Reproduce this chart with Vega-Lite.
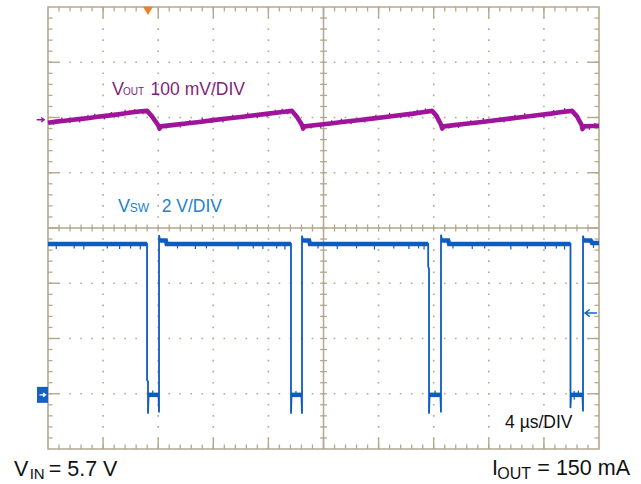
{
  "$schema": "https://vega.github.io/schema/vega-lite/v6.json",
  "width": 551,
  "height": 442,
  "autosize": "none",
  "padding": {"left": 48, "top": 7, "right": 42, "bottom": 35},
  "background": "white",
  "config": {
    "view": {"stroke": "#b5a88e", "strokeWidth": 1.6},
    "axis": {"disable": true},
    "text": {"font": "Liberation Sans"}
  },
  "datasets": {
    "xt": [{"t":0.8},{"t":1.6},{"t":2.4},{"t":3.2},{"t":4},{"t":4.8},{"t":5.6},{"t":6.4},{"t":7.2},{"t":8},{"t":8.8},{"t":9.6},{"t":10.4},{"t":11.2},{"t":12},{"t":12.8},{"t":13.6},{"t":14.4},{"t":15.2},{"t":16},{"t":16.8},{"t":17.6},{"t":18.4},{"t":19.2},{"t":20},{"t":20.8},{"t":21.6},{"t":22.4},{"t":23.2},{"t":24},{"t":24.8},{"t":25.6},{"t":26.4},{"t":27.2},{"t":28},{"t":28.8},{"t":29.6},{"t":30.4},{"t":31.2},{"t":32},{"t":32.8},{"t":33.6},{"t":34.4},{"t":35.2},{"t":36},{"t":36.8},{"t":37.6},{"t":38.4},{"t":39.2}],
    "xm": [{"t":4},{"t":8},{"t":12},{"t":16},{"t":20},{"t":24},{"t":28},{"t":32},{"t":36}],
    "yt": [{"v":-3.8},{"v":-3.6},{"v":-3.4},{"v":-3.2},{"v":-3},{"v":-2.8},{"v":-2.6},{"v":-2.4},{"v":-2.2},{"v":-2},{"v":-1.8},{"v":-1.6},{"v":-1.4},{"v":-1.2},{"v":-1},{"v":-0.8},{"v":-0.6},{"v":-0.4},{"v":-0.2},{"v":0},{"v":0.2},{"v":0.4},{"v":0.6},{"v":0.8},{"v":1},{"v":1.2},{"v":1.4},{"v":1.6},{"v":1.8},{"v":2},{"v":2.2},{"v":2.4},{"v":2.6},{"v":2.8},{"v":3},{"v":3.2},{"v":3.4},{"v":3.6},{"v":3.8}],
    "ym": [{"v":-3},{"v":-2},{"v":-1},{"v":0},{"v":1},{"v":2},{"v":3}],
    "vout": [{"t":0,"v":1.905},{"t":0.6,"v":1.925},{"t":1.2,"v":1.94},{"t":1.8,"v":1.958},{"t":2.4,"v":1.975},{"t":3.0,"v":1.99},{"t":3.6,"v":2.012},{"t":4.2,"v":2.03},{"t":4.8,"v":2.048},{"t":5.4,"v":2.068},{"t":6.0,"v":2.09},{"t":6.6,"v":2.108},{"t":7.19,"v":2.12},{"t":7.55,"v":2.02},{"t":8.0,"v":1.86},{"t":8.1,"v":1.8},{"t":8.2,"v":1.84},
      {"t":9.0,"v":1.862},{"t":10.0,"v":1.89},{"t":11.0,"v":1.92},{"t":12.0,"v":1.953},{"t":13.0,"v":1.982},{"t":14.0,"v":2.01},{"t":15.0,"v":2.04},{"t":16.0,"v":2.07},{"t":17.0,"v":2.1},{"t":17.71,"v":2.12},{"t":18.05,"v":2.02},{"t":18.45,"v":1.86},{"t":18.52,"v":1.8},{"t":18.62,"v":1.84},
      {"t":19.5,"v":1.865},{"t":20.5,"v":1.892},{"t":21.5,"v":1.922},{"t":22.5,"v":1.95},{"t":23.5,"v":1.98},{"t":24.5,"v":2.01},{"t":25.5,"v":2.04},{"t":26.5,"v":2.07},{"t":27.3,"v":2.1},{"t":27.88,"v":2.12},{"t":28.2,"v":2.03},{"t":28.55,"v":1.86},{"t":28.62,"v":1.8},{"t":28.72,"v":1.84},
      {"t":29.5,"v":1.862},{"t":30.5,"v":1.892},{"t":31.5,"v":1.92},{"t":32.5,"v":1.95},{"t":33.5,"v":1.98},{"t":34.5,"v":2.01},{"t":35.5,"v":2.04},{"t":36.5,"v":2.07},{"t":37.3,"v":2.1},{"t":38.04,"v":2.12},{"t":38.4,"v":2.02},{"t":38.75,"v":1.86},{"t":38.8,"v":1.79},{"t":38.92,"v":1.84},{"t":39.5,"v":1.845},{"t":40,"v":1.85}],
    "voutspk": [{"t":0.4,"lo":1.87,"hi":1.93},{"t":1.0,"lo":1.93,"hi":2.0},{"t":1.6,"lo":1.9,"hi":1.95},{"t":2.3,"lo":1.91,"hi":1.97},{"t":2.9,"lo":1.98,"hi":2.05},{"t":3.4,"lo":2.0,"hi":2.07},{"t":4.1,"lo":1.965,"hi":2.03},{"t":4.6,"lo":2.04,"hi":2.1},{"t":5.1,"lo":2.0,"hi":2.06},{"t":5.6,"lo":2.07,"hi":2.14},{"t":6.3,"lo":2.09,"hi":2.155},{"t":6.9,"lo":2.06,"hi":2.12},
      {"t":8.6,"lo":1.8,"hi":1.85},{"t":9.6,"lo":1.82,"hi":1.88},{"t":10.3,"lo":1.9,"hi":1.955},{"t":11.2,"lo":1.93,"hi":1.99},{"t":11.9,"lo":1.9,"hi":1.95},{"t":12.7,"lo":1.91,"hi":1.97},{"t":13.4,"lo":1.99,"hi":2.05},{"t":14.5,"lo":2.03,"hi":2.09},{"t":15.2,"lo":1.99,"hi":2.04},{"t":15.9,"lo":2.005,"hi":2.07},{"t":16.5,"lo":2.08,"hi":2.14},{"t":17.0,"lo":2.1,"hi":2.16},{"t":17.4,"lo":2.06,"hi":2.11},
      {"t":19.1,"lo":1.8,"hi":1.85},{"t":19.8,"lo":1.81,"hi":1.88},{"t":20.6,"lo":1.89,"hi":1.95},{"t":21.3,"lo":1.92,"hi":1.98},{"t":22.0,"lo":1.88,"hi":1.93},{"t":23.0,"lo":1.91,"hi":1.97},{"t":23.8,"lo":1.99,"hi":2.05},{"t":24.8,"lo":2.02,"hi":2.085},{"t":25.6,"lo":1.99,"hi":2.04},{"t":26.2,"lo":2.0,"hi":2.07},{"t":26.8,"lo":2.08,"hi":2.14},{"t":27.4,"lo":2.1,"hi":2.165},
      {"t":29.1,"lo":1.8,"hi":1.85},{"t":29.8,"lo":1.81,"hi":1.87},{"t":30.7,"lo":1.89,"hi":1.95},{"t":31.6,"lo":1.93,"hi":1.99},{"t":32.3,"lo":1.9,"hi":1.945},{"t":33.1,"lo":1.91,"hi":1.97},{"t":33.9,"lo":1.99,"hi":2.05},{"t":34.6,"lo":2.02,"hi":2.08},{"t":35.3,"lo":1.99,"hi":2.04},{"t":36.0,"lo":1.995,"hi":2.06},{"t":36.7,"lo":2.07,"hi":2.135},{"t":37.5,"lo":2.1,"hi":2.17},
      {"t":39.3,"lo":1.78,"hi":1.85},{"t":39.7,"lo":1.84,"hi":1.9}],
    "sw": [{"t":0,"v":-0.29},{"t":7.19,"v":-0.29},{"t":7.19,"v":-2.75},{"t":7.26,"v":-2.78},{"t":7.26,"v":-3.36},{"t":7.3,"v":-3.02},{"t":8.02,"v":-3.02},{"t":8.06,"v":-3.34},{"t":8.06,"v":-0.13},{"t":8.13,"v":-0.22},{"t":8.55,"v":-0.23},{"t":8.65,"v":-0.29},
      {"t":17.64,"v":-0.29},{"t":17.64,"v":-3.36},{"t":17.68,"v":-3.02},{"t":18.4,"v":-3.02},{"t":18.44,"v":-3.36},{"t":18.44,"v":-0.14},{"t":18.51,"v":-0.22},{"t":18.95,"v":-0.23},{"t":19.05,"v":-0.29},
      {"t":27.6,"v":-0.29},{"t":27.6,"v":-0.7},{"t":27.66,"v":-0.74},{"t":27.66,"v":-3.36},{"t":27.7,"v":-3.02},{"t":28.49,"v":-3.02},{"t":28.53,"v":-3.34},{"t":28.53,"v":-0.12},{"t":28.6,"v":-0.22},{"t":29.05,"v":-0.23},{"t":29.15,"v":-0.29},
      {"t":37.93,"v":-0.29},{"t":37.93,"v":-3.26},{"t":37.97,"v":-3.02},{"t":38.8,"v":-3.02},{"t":38.84,"v":-3.32},{"t":38.84,"v":-0.14},{"t":38.91,"v":-0.22},{"t":39.4,"v":-0.23},{"t":39.5,"v":-0.27},{"t":40,"v":-0.27}],
    "swband": [{"seg":"h1","t":0,"v":-0.29},{"seg":"h1","t":7.19,"v":-0.29},
      {"seg":"l1","t":7.26,"v":-3.02},{"seg":"l1","t":8.06,"v":-3.02},
      {"seg":"h2","t":8.08,"v":-0.225},{"seg":"h2","t":8.55,"v":-0.225},{"seg":"h2","t":8.62,"v":-0.29},{"seg":"h2","t":17.64,"v":-0.29},
      {"seg":"l2","t":17.64,"v":-3.02},{"seg":"l2","t":18.44,"v":-3.02},
      {"seg":"h3","t":18.46,"v":-0.225},{"seg":"h3","t":18.95,"v":-0.225},{"seg":"h3","t":19.02,"v":-0.29},{"seg":"h3","t":27.6,"v":-0.29},
      {"seg":"l3","t":27.66,"v":-3.02},{"seg":"l3","t":28.53,"v":-3.02},
      {"seg":"h4","t":28.55,"v":-0.225},{"seg":"h4","t":29.05,"v":-0.225},{"seg":"h4","t":29.12,"v":-0.29},{"seg":"h4","t":37.93,"v":-0.29},
      {"seg":"l4","t":37.93,"v":-3.02},{"seg":"l4","t":38.84,"v":-3.02},
      {"seg":"h5","t":38.86,"v":-0.225},{"seg":"h5","t":39.4,"v":-0.225},{"seg":"h5","t":39.5,"v":-0.27},{"seg":"h5","t":40,"v":-0.27}],
    "swspk": [{"t":0.6,"lo":-0.38,"hi":-0.29},{"t":1.9,"lo":-0.37,"hi":-0.29},{"t":2.6,"lo":-0.39,"hi":-0.29},{"t":4.3,"lo":-0.37,"hi":-0.29},{"t":5.2,"lo":-0.38,"hi":-0.29},{"t":6.0,"lo":-0.37,"hi":-0.29},{"t":6.7,"lo":-0.39,"hi":-0.29},{"t":9.4,"lo":-0.37,"hi":-0.29},{"t":10.7,"lo":-0.38,"hi":-0.29},{"t":11.5,"lo":-0.37,"hi":-0.29},{"t":13.8,"lo":-0.39,"hi":-0.29},{"t":14.9,"lo":-0.37,"hi":-0.29},{"t":15.6,"lo":-0.38,"hi":-0.29},{"t":16.6,"lo":-0.37,"hi":-0.29},{"t":17.2,"lo":-0.39,"hi":-0.29},{"t":19.6,"lo":-0.37,"hi":-0.29},{"t":21.0,"lo":-0.38,"hi":-0.29},{"t":22.4,"lo":-0.37,"hi":-0.29},{"t":23.7,"lo":-0.39,"hi":-0.29},{"t":25.1,"lo":-0.37,"hi":-0.29},{"t":26.2,"lo":-0.38,"hi":-0.29},{"t":26.9,"lo":-0.37,"hi":-0.29},{"t":27.3,"lo":-0.39,"hi":-0.29},{"t":29.4,"lo":-0.37,"hi":-0.29},{"t":30.8,"lo":-0.38,"hi":-0.29},{"t":31.7,"lo":-0.37,"hi":-0.29},{"t":33.6,"lo":-0.39,"hi":-0.29},{"t":34.8,"lo":-0.37,"hi":-0.29},{"t":36.1,"lo":-0.38,"hi":-0.29},{"t":36.9,"lo":-0.37,"hi":-0.29},{"t":37.5,"lo":-0.39,"hi":-0.29},{"t":39.6,"lo":-0.36,"hi":-0.27},
      {"t":7.6,"lo":-3.02,"hi":-2.94},{"t":18.0,"lo":-3.02,"hi":-2.95},{"t":28.1,"lo":-3.02,"hi":-2.94},{"t":38.2,"lo":-3.11,"hi":-2.95},{"t":38.5,"lo":-3.02,"hi":-2.94}]
  },
  "layer": [
    {"data": {"name": "xm"}, "mark": {"type": "rule", "color": "#b5a88e", "strokeWidth": 1.6, "strokeDash": [1.6, 9.45], "strokeDashOffset": 0.8},
     "encoding": {"x": {"field": "t", "type": "quantitative", "scale": {"domain": [0, 40], "nice": false, "zero": false}},
                  "y": {"datum": -4, "scale": {"domain": [-4, 4], "nice": false, "zero": false}}, "y2": {"datum": 4}}},
    {"data": {"name": "ym"}, "mark": {"type": "rule", "color": "#b5a88e", "strokeWidth": 1.6, "strokeDash": [1.6, 9.42], "strokeDashOffset": 0.8},
     "encoding": {"y": {"field": "v", "type": "quantitative"}, "x": {"datum": 0}, "x2": {"datum": 40}}},
    {"data": {"values": [{}]}, "mark": {"type": "rule", "color": "#b5a88e", "strokeWidth": 1.5},
     "encoding": {"x": {"datum": 20}, "y": {"datum": -4}, "y2": {"datum": 4}}},
    {"data": {"values": [{}]}, "mark": {"type": "rule", "color": "#b5a88e", "strokeWidth": 1.5},
     "encoding": {"y": {"datum": 0}, "x": {"datum": 0}, "x2": {"datum": 40}}},
    {"data": {"name": "xt"}, "mark": {"type": "rule", "color": "#b5a88e", "strokeWidth": 1.3},
     "encoding": {"x": {"field": "t", "type": "quantitative"}, "y": {"datum": 4}, "y2": {"datum": 3.918}}},
    {"data": {"name": "xt"}, "mark": {"type": "rule", "color": "#b5a88e", "strokeWidth": 1.3},
     "encoding": {"x": {"field": "t", "type": "quantitative"}, "y": {"datum": -4}, "y2": {"datum": -3.918}}},
    {"data": {"name": "xt"}, "mark": {"type": "rule", "color": "#b5a88e", "strokeWidth": 1.3},
     "encoding": {"x": {"field": "t", "type": "quantitative"}, "y": {"datum": 0.065}, "y2": {"datum": -0.065}}},
    {"data": {"name": "xm"}, "mark": {"type": "rule", "color": "#b5a88e", "strokeWidth": 1.4},
     "encoding": {"x": {"field": "t", "type": "quantitative"}, "y": {"datum": 4}, "y2": {"datum": 3.8}}},
    {"data": {"name": "xm"}, "mark": {"type": "rule", "color": "#b5a88e", "strokeWidth": 1.4},
     "encoding": {"x": {"field": "t", "type": "quantitative"}, "y": {"datum": -4}, "y2": {"datum": -3.8}}},
    {"data": {"name": "yt"}, "mark": {"type": "rule", "color": "#b5a88e", "strokeWidth": 1.3},
     "encoding": {"y": {"field": "v", "type": "quantitative"}, "x": {"datum": 0}, "x2": {"datum": 0.327}}},
    {"data": {"name": "yt"}, "mark": {"type": "rule", "color": "#b5a88e", "strokeWidth": 1.3},
     "encoding": {"y": {"field": "v", "type": "quantitative"}, "x": {"datum": 40}, "x2": {"datum": 39.673}}},
    {"data": {"name": "yt"}, "mark": {"type": "rule", "color": "#b5a88e", "strokeWidth": 1.3},
     "encoding": {"y": {"field": "v", "type": "quantitative"}, "x": {"datum": 19.75}, "x2": {"datum": 20.25}}},
    {"data": {"name": "ym"}, "mark": {"type": "rule", "color": "#b5a88e", "strokeWidth": 1.4},
     "encoding": {"y": {"field": "v", "type": "quantitative"}, "x": {"datum": 0}, "x2": {"datum": 0.8}}},
    {"data": {"name": "ym"}, "mark": {"type": "rule", "color": "#b5a88e", "strokeWidth": 1.4},
     "encoding": {"y": {"field": "v", "type": "quantitative"}, "x": {"datum": 40}, "x2": {"datum": 39.2}}},

    {"data": {"name": "swband"}, "mark": {"type": "line", "color": "#0f5cc0", "strokeWidth": 4.5, "strokeCap": "butt"},
     "encoding": {"x": {"field": "t", "type": "quantitative"}, "y": {"field": "v", "type": "quantitative"}, "detail": {"field": "seg"}, "order": {"value": null}}},
    {"data": {"name": "sw"}, "mark": {"type": "line", "color": "#0f5cc0", "strokeWidth": 1.8},
     "encoding": {"x": {"field": "t", "type": "quantitative"}, "y": {"field": "v", "type": "quantitative"}, "order": {"value": null}}},
    {"data": {"name": "swspk"}, "mark": {"type": "rule", "color": "#0f5cc0", "strokeWidth": 1.2},
     "encoding": {"x": {"field": "t", "type": "quantitative"}, "y": {"field": "lo", "type": "quantitative"}, "y2": {"field": "hi"}}},
    {"data": {"name": "vout"}, "mark": {"type": "line", "color": "#a0149c", "strokeWidth": 4.6, "strokeJoin": "round"},
     "encoding": {"x": {"field": "t", "type": "quantitative"}, "y": {"field": "v", "type": "quantitative"}, "order": {"value": null}}},
    {"data": {"name": "voutspk"}, "mark": {"type": "rule", "color": "#a0149c", "strokeWidth": 1.3},
     "encoding": {"x": {"field": "t", "type": "quantitative"}, "y": {"field": "lo", "type": "quantitative"}, "y2": {"field": "hi"}}},

    {"data": {"values": [{}]}, "mark": {"type": "point", "shape": "triangle-down", "filled": true, "color": "#f47d20", "size": 95, "opacity": 1},
     "encoding": {"x": {"datum": 7.26}, "y": {"datum": 3.93}}},
    {"data": {"values": [{}]}, "mark": {"type": "point", "shape": "M-1,0L1,0M0.2,-0.6L1,0L0.2,0.6", "filled": false, "color": "#a0149c", "strokeWidth": 1.4, "size": 56, "opacity": 1},
     "encoding": {"x": {"datum": -0.55}, "y": {"datum": 1.96}}},
    {"data": {"values": [{}]}, "mark": {"type": "rect", "color": "#1560c4"},
     "encoding": {"x": {"datum": -0.8}, "x2": {"datum": 0}, "y": {"datum": -2.875}, "y2": {"datum": -3.165}}},
    {"data": {"values": [{}]}, "mark": {"type": "point", "shape": "M-1,0L1,0M0.2,-0.6L1,0L0.2,0.6", "filled": false, "color": "white", "strokeWidth": 1.4, "size": 36, "opacity": 1},
     "encoding": {"x": {"datum": -0.4}, "y": {"datum": -3.02}}},
    {"data": {"values": [{}]}, "mark": {"type": "point", "shape": "M1,0L-1,0M-0.2,-0.6L-1,0L-0.2,0.6", "filled": false, "color": "#1766cc", "strokeWidth": 1.5, "size": 144, "opacity": 1},
     "encoding": {"x": {"datum": 39.42}, "y": {"datum": -1.54}}},

    {"data": {"values": [{"s": "V"}]}, "mark": {"type": "text", "align": "left", "baseline": "alphabetic", "fontSize": 18, "color": "#7f1f7c"},
     "encoding": {"x": {"datum": 4.646}, "y": {"datum": 2.407}, "text": {"field": "s"}}},
    {"data": {"values": [{"s": "OUT"}]}, "mark": {"type": "text", "align": "left", "baseline": "alphabetic", "fontSize": 10, "color": "#7f1f7c"},
     "encoding": {"x": {"datum": 5.45}, "y": {"datum": 2.407}, "text": {"field": "s"}}},
    {"data": {"values": [{"s": "100 mV/DIV"}]}, "mark": {"type": "text", "align": "left", "baseline": "alphabetic", "fontSize": 17.5, "color": "#7f1f7c"},
     "encoding": {"x": {"datum": 7.45}, "y": {"datum": 2.407}, "text": {"field": "s"}}},
    {"data": {"values": [{"s": "V"}]}, "mark": {"type": "text", "align": "left", "baseline": "alphabetic", "fontSize": 18, "color": "#2280d0"},
     "encoding": {"x": {"datum": 5.08}, "y": {"datum": 0.29}, "text": {"field": "s"}}},
    {"data": {"values": [{"s": "SW"}]}, "mark": {"type": "text", "align": "left", "baseline": "alphabetic", "fontSize": 12, "color": "#2280d0"},
     "encoding": {"x": {"datum": 5.93}, "y": {"datum": 0.29}, "text": {"field": "s"}}},
    {"data": {"values": [{"s": "2 V/DIV"}]}, "mark": {"type": "text", "align": "left", "baseline": "alphabetic", "fontSize": 17.5, "color": "#2280d0"},
     "encoding": {"x": {"datum": 8.25}, "y": {"datum": 0.29}, "text": {"field": "s"}}},
    {"data": {"values": [{"s": "4 µs/DIV"}]}, "mark": {"type": "text", "align": "left", "baseline": "alphabetic", "fontSize": 17.5, "color": "#111111"},
     "encoding": {"x": {"datum": 33.18}, "y": {"datum": -3.62}, "text": {"field": "s"}}},
    {"data": {"values": [{"s": "V"}]}, "mark": {"type": "text", "align": "left", "baseline": "alphabetic", "fontSize": 21.5, "color": "#111111"},
     "encoding": {"x": {"datum": -2.468}, "y": {"datum": -4.489}, "text": {"field": "s"}}},
    {"data": {"values": [{"s": "IN"}]}, "mark": {"type": "text", "align": "left", "baseline": "alphabetic", "fontSize": 15, "color": "#111111"},
     "encoding": {"x": {"datum": -1.33}, "y": {"datum": -4.543}, "text": {"field": "s"}}},
    {"data": {"values": [{"s": "= 5.7 V"}]}, "mark": {"type": "text", "align": "left", "baseline": "alphabetic", "fontSize": 21.5, "color": "#111111"},
     "encoding": {"x": {"datum": 0.05}, "y": {"datum": -4.489}, "text": {"field": "s"}}},
    {"data": {"values": [{"s": "I"}]}, "mark": {"type": "text", "align": "left", "baseline": "alphabetic", "fontSize": 21.5, "color": "#111111"},
     "encoding": {"x": {"datum": 32.23}, "y": {"datum": -4.47}, "text": {"field": "s"}}},
    {"data": {"values": [{"s": "OUT"}]}, "mark": {"type": "text", "align": "left", "baseline": "alphabetic", "fontSize": 16, "color": "#111111"},
     "encoding": {"x": {"datum": 32.62}, "y": {"datum": -4.543}, "text": {"field": "s"}}},
    {"data": {"values": [{"s": "= 150 mA"}]}, "mark": {"type": "text", "align": "right", "baseline": "alphabetic", "fontSize": 21.5, "color": "#111111"},
     "encoding": {"x": {"datum": 42.25}, "y": {"datum": -4.47}, "text": {"field": "s"}}}
  ]
}
